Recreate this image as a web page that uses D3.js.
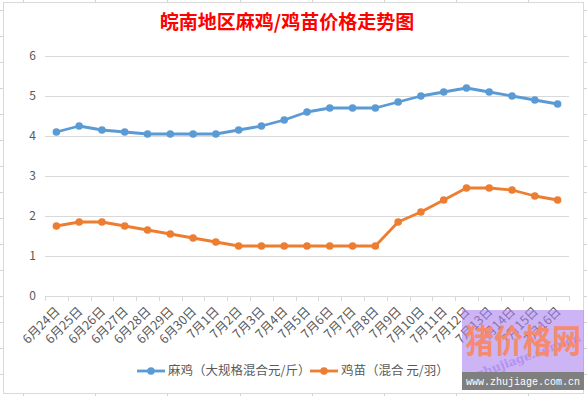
<!DOCTYPE html>
<html><head><meta charset="utf-8">
<script src="https://cdn.jsdelivr.net/npm/d3@7/dist/d3.min.js"></script>
<style>body{margin:0;background:#fff}svg{display:block}</style>
</head><body><svg id="c" width="587" height="396"></svg>
<script>
const categories = ["6月24日","6月25日","6月26日","6月27日","6月28日","6月29日","6月30日","7月1日","7月2日","7月3日","7月4日","7月5日","7月6日","7月7日","7月8日","7月9日","7月10日","7月11日","7月12日","7月13日","7月14日","7月15日","7月16日"];
const majiValues = [4.1,4.25,4.15,4.1,4.05,4.05,4.05,4.05,4.15,4.25,4.4,4.6,4.7,4.7,4.7,4.85,5.0,5.1,5.2,5.1,5.0,4.9,4.8];
const jimiaoValues = [1.75,1.85,1.85,1.75,1.65,1.55,1.45,1.35,1.25,1.25,1.25,1.25,1.25,1.25,1.25,1.85,2.1,2.4,2.7,2.7,2.65,2.5,2.4];
const yTicks = [0,1,2,3,4,5,6];
const seriesNames = ["麻鸡（大规格混合元/斤）","鸡苗（混合 元/羽）"];
const title = "皖南地区麻鸡/鸡苗价格走势图";

const svg = d3.select("#c");
const font = "'Noto Sans CJK SC','Noto Sans',sans-serif";

// Excel cell grid stubs outside chart area
const stubs = svg.append("g").attr("stroke","#d4d4d4").attr("stroke-width",1);
for (let k=0;k<8;k++){ const x=23.5+Math.round(72.2*k);
  stubs.append("line").attr("x1",x).attr("x2",x).attr("y1",0).attr("y2",2);
  stubs.append("line").attr("x1",x).attr("x2",x).attr("y1",394).attr("y2",396);}
for (let k=0;k<15;k++){ const y=10.5+Math.round(26*k);
  stubs.append("line").attr("x1",0).attr("x2",3).attr("y1",y).attr("y2",y);
  stubs.append("line").attr("x1",584).attr("x2",587).attr("y1",y).attr("y2",y);}

// chart area border
svg.append("rect").attr("x",3.5).attr("y",2.5).attr("width",580).attr("height",391)
  .attr("fill","#fff").attr("stroke","#d9d9d9");

const x = d3.scaleBand().domain(categories).range([45,569]);
const y = d3.scaleLinear().domain([0,6]).range([296,56]);

// title
svg.append("text").attr("x",287).attr("y",29).attr("text-anchor","middle")
  .attr("font-family",font).attr("font-size",19).attr("font-weight","bold")
  .attr("fill","#ff0000").text(title);

// y grid + labels
const gy = svg.append("g").attr("transform","translate(45,0)")
  .call(d3.axisLeft(y).tickValues(yTicks).tickSize(-524).tickFormat(d3.format("d")));
gy.select(".domain").remove();
gy.selectAll(".tick line").attr("stroke","#d9d9d9");
gy.selectAll(".tick text").attr("x",-9).attr("fill","#595959").attr("font-size",12).attr("font-family",font);

// x axis
const gx = svg.append("g").attr("transform","translate(0,296)")
  .call(d3.axisBottom(x).tickSize(0).tickSizeOuter(0));
gx.select(".domain").attr("stroke","#d9d9d9");
gx.selectAll(".tick text").attr("fill","#595959").attr("font-size",12.5).attr("font-family",font)
  .attr("text-anchor","end").attr("y",0).attr("dy","0.35em")
  .attr("transform","translate(1,13) rotate(-45)");
// boundary tick marks
const bounds = categories.map(c=>x(c)).concat([x.range()[1]]);
svg.append("g").selectAll("line").data(bounds).join("line")
  .attr("x1",d=>Math.round(d)+0.5).attr("x2",d=>Math.round(d)+0.5)
  .attr("y1",296).attr("y2",301).attr("stroke","#d9d9d9");

const cx = d => x(d) + x.bandwidth()/2;
function drawSeries(vals,color){
  const data = categories.map((c,i)=>({c,v:vals[i]}));
  svg.append("path").datum(data).attr("fill","none").attr("stroke",color)
    .attr("stroke-width",2.8).attr("stroke-linejoin","round").attr("stroke-linecap","round")
    .attr("d",d3.line().x(d=>cx(d.c)).y(d=>y(d.v)));
  svg.append("g").selectAll("circle").data(data).join("circle")
    .attr("cx",d=>cx(d.c)).attr("cy",d=>y(d.v)).attr("r",3.8).attr("fill",color);
}
drawSeries(majiValues,"#5b9bd5");
drawSeries(jimiaoValues,"#ed7d31");

// legend
const legend = [{name:seriesNames[0],color:"#5b9bd5",x:137},{name:seriesNames[1],color:"#ed7d31",x:310}];
legend.forEach(l=>{
  const g = svg.append("g").attr("transform",`translate(${l.x},371)`);
  g.append("line").attr("x1",0).attr("x2",28).attr("stroke",l.color).attr("stroke-width",2.8);
  g.append("circle").attr("cx",14).attr("r",3.8).attr("fill",l.color);
  g.append("text").attr("x",31).attr("dy","0.35em").attr("font-size",12.5).attr("font-family",font)
    .attr("fill","#595959").text(l.name);
});

// watermark
const wm = svg.append("g");
wm.append("rect").attr("x",462).attr("y",310).attr("width",122).attr("height",62)
  .attr("fill","rgb(170,130,238)").attr("opacity",0.6);
wm.append("text").attr("x",470).attr("y",362).attr("transform","rotate(-20,520,345)")
  .attr("font-size",12).attr("font-family","'DejaVu Serif',serif").attr("font-weight","bold")
  .attr("fill","rgb(160,120,235)").attr("opacity",0.55).text("zhujiage.com.cn");
wm.append("text").attr("x",465).attr("y",353)
  .attr("font-size",33).attr("font-weight","bold").attr("font-family","'Noto Sans CJK SC',serif")
  .attr("textLength",116).attr("lengthAdjust","spacingAndGlyphs")
  .attr("fill","#f58a6e").text("猪价格网");
wm.append("rect").attr("x",462).attr("y",372).attr("width",122).attr("height",18).attr("fill","#7f7f7f");
wm.append("text").attr("x",466).attr("y",385)
  .attr("font-size",10.5).attr("font-family","'Liberation Mono','DejaVu Sans Mono',monospace")
  .attr("textLength",114).attr("lengthAdjust","spacingAndGlyphs")
  .attr("fill","#fff").text("www.zhujiage.com.cn");
</script></body></html>
